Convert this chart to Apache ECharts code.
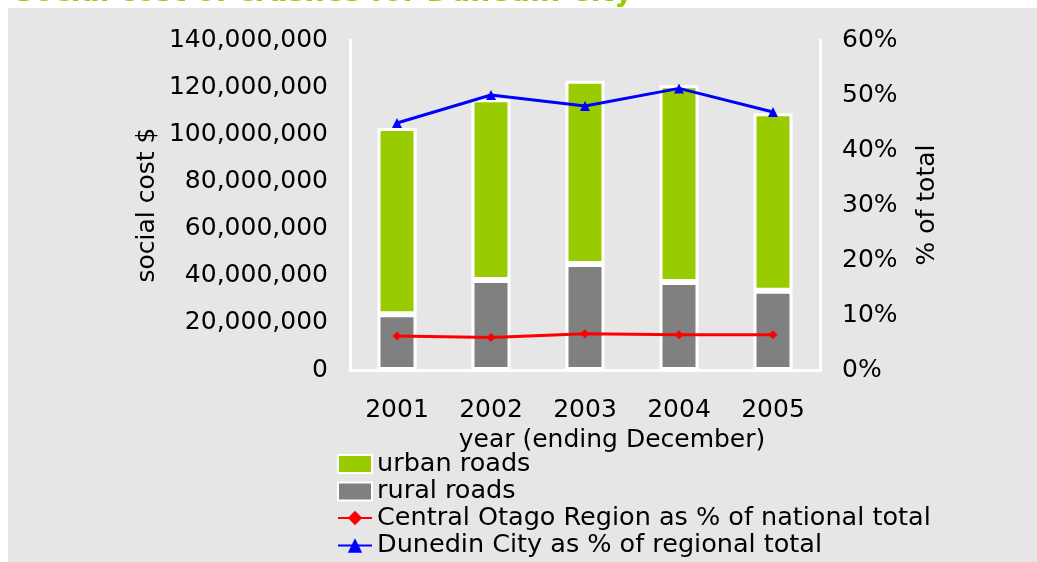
<!DOCTYPE html>
<html>
<head>
<meta charset="utf-8">
<title>Social cost of crashes for Dunedin City</title>
<script src="https://cdn.jsdelivr.net/npm/echarts@6/dist/echarts.min.js"></script>
<style>
  html, body { margin: 0; padding: 0; background: #fff; }
  #chart { width: 1037px; height: 562px; }
</style>
</head>
<body>
<div id="chart"></div>
<script>
// values
const years = ["2001", "2002", "2003", "2004", "2005"];
const ruralRoads = [23600000, 38200000, 45000000, 37300000, 33600000];
const urbanRoads = [79100000, 76700000, 77700000, 83500000, 75300000];
const otagoPctNational = [6.2, 5.9, 6.6, 6.4, 6.4];
const dunedinPctRegional = [44.9, 50.0, 48.0, 51.2, 46.9];

const FONT = "DejaVu Sans";
const FS = 25;
const chart = echarts.init(document.getElementById("chart"));

const barStyle = (color) => ({
  color: color,
  borderColor: "#ffffff",
  borderWidth: 3,
});

// legend split in two blocks so the four rows stack without wrapping
const legendBlock = (top, items) => ({
  orient: "vertical",
  left: 337,
  top: top,
  itemGap: 1.5,
  itemWidth: 34,
  itemHeight: 18,
  padding: 0,
  textStyle: { fontFamily: FONT, fontSize: 25.5, color: "#000" },
  data: items,
});

const option = {
  animation: false,
  backgroundColor: "#ffffff",
  textStyle: { fontFamily: FONT, color: "#000" },
  graphic: [
    {
      type: "rect",
      z: -10,
      shape: { x: 8, y: 8, width: 1029, height: 554 },
      style: { fill: "#e6e6e6" },
    },
    {
      type: "text",
      z: 10,
      x: 14,
      y: 8,
      style: {
        text: "Social cost of crashes for Dunedin City",
        font: "bold 28.4px DejaVu Sans",
        fill: "#99cc00",
        verticalAlign: "bottom",
      },
    },
  ],
  legend: [
    legendBlock(451, [
      { name: "urban roads", icon: "rect" },
      { name: "rural roads", icon: "rect" },
    ]),
    legendBlock(505, [
      "Central Otago Region as % of national total",
      "Dunedin City as % of regional total",
    ]),
  ],
  grid: {
    left: 350,
    right: 217,
    top: 40,
    bottom: 192,
  },
  xAxis: {
    type: "category",
    data: years,
    name: "year (ending December)",
    nameLocation: "middle",
    nameGap: 58,
    nameTextStyle: { fontFamily: FONT, fontSize: FS, color: "#000", padding: [0, 0, 0, 54] },
    axisLine: { lineStyle: { color: "#ffffff", width: 3 } },
    axisTick: { show: false },
    axisLabel: { fontFamily: FONT, fontSize: FS, color: "#000", margin: 28 },
  },
  yAxis: [
    {
      type: "value",
      min: 0,
      max: 140000000,
      interval: 20000000,
      name: "social cost $",
      nameLocation: "middle",
      nameGap: 190,
      nameTextStyle: { fontFamily: FONT, fontSize: FS, color: "#000" },
      axisLine: { show: true, lineStyle: { color: "#ffffff", width: 3 } },
      axisTick: { show: false },
      splitLine: { show: false },
      axisLabel: {
        fontFamily: FONT,
        fontSize: FS,
        color: "#000",
        margin: 22,
        padding: [6, 0, 0, 0],
        formatter: (v) => v.toLocaleString("en-US"),
      },
    },
    {
      type: "value",
      min: 0,
      max: 60,
      interval: 10,
      name: "% of total",
      nameLocation: "middle",
      nameGap: 95,
      nameRotate: 90,
      nameTextStyle: { fontFamily: FONT, fontSize: FS, color: "#000" },
      axisLine: { show: true, lineStyle: { color: "#ffffff", width: 3 } },
      axisTick: { show: false },
      splitLine: { show: false },
      axisLabel: {
        fontFamily: FONT,
        fontSize: FS,
        color: "#000",
        margin: 22,
        padding: [6, 0, 0, 0],
        formatter: "{value}%",
      },
    },
  ],
  series: [
    {
      name: "rural roads",
      type: "bar",
      stack: "cost",
      barWidth: 39,
      itemStyle: barStyle("#808080"),
      data: ruralRoads,
    },
    {
      name: "urban roads",
      type: "bar",
      stack: "cost",
      barWidth: 39,
      itemStyle: barStyle("#99cc00"),
      data: urbanRoads,
    },
    {
      name: "Central Otago Region as % of national total",
      type: "line",
      yAxisIndex: 1,
      symbol: "diamond",
      symbolSize: 9,
      lineStyle: { color: "#ff0000", width: 3 },
      itemStyle: { color: "#ff0000" },
      data: otagoPctNational,
    },
    {
      name: "Dunedin City as % of regional total",
      type: "line",
      yAxisIndex: 1,
      symbol: "triangle",
      symbolSize: 10,
      lineStyle: { color: "#0000ff", width: 3 },
      itemStyle: { color: "#0000ff" },
      data: dunedinPctRegional,
    },
  ],
};

chart.setOption(option);
</script>
</body>
</html>
